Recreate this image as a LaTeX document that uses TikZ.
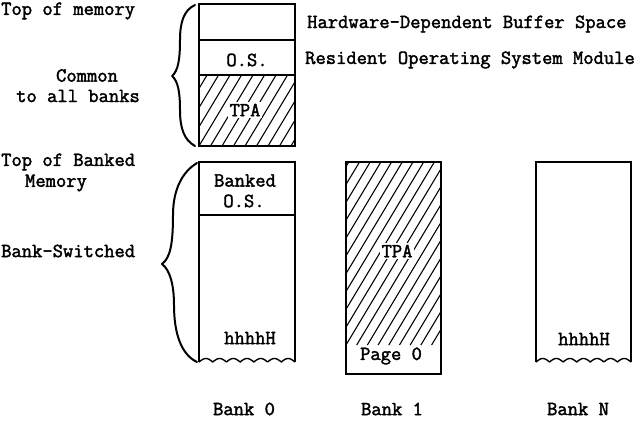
\documentclass[tikz,border=0pt]{standalone}
\usepackage{fontspec}
\setmainfont[FakeBold=2]{Latin Modern Mono}
\begin{document}
\begin{tikzpicture}[x=1pt,y=-1pt,
  every node/.style={font=\fontsize{20}{22}\selectfont, inner sep=0pt},
  lbl/.style={anchor=west},
  memline/.style={line width=1.4pt, line join=miter},
  hatchline/.style={line width=1.1pt},
  bracestyle/.style={line width=2pt, line cap=round, line join=round},
  hole/.style={fill=white, inner sep=2pt}]
\useasboundingbox (0,0) rectangle (642,422);

% ---------- Common area ----------
\begin{scope}
  \clip (199,75) rectangle (295,146);
  \foreach \k in {-8,...,10}
    \draw[hatchline] ({199+\k*11.5},146) -- ++(60,-100);
\end{scope}
\draw[memline] (199,4) rectangle (295,146);
\draw[memline] (199,40) -- (295,40);
\draw[memline] (199,75) -- (295,75);
\node (os1) at (247,60) {O.S.};
\node[hole] (tpa1) at (245,110) {TPA};

\draw[bracestyle] (195,5) .. controls (184,10) and (180,22) .. (180,40)
  .. controls (180,60) and (178,71) .. (172,76)
  .. controls (178,81) and (180,92) .. (180,110)
  .. controls (180,128) and (184,140) .. (195,146);

\node[lbl] (topmem) at (1,11) {Top of memory};
\node (common) at (87,75.5) {Common};
\node (toall) at (78,96) {to all banks};
\node[lbl] (hw) at (307,24) {Hardware-Dependent Buffer Space};
\node[lbl] (res) at (305,60) {Resident Operating System Module};

% ---------- Bank 0 ----------
\draw[memline] (199,362) -- (199,162) -- (295,162) -- (295,362);
\draw[memline] plot[domain=0:7, samples=150] ({199+\x*13.714},{362-3.5*abs(sin(\x*180))});
\draw[memline] (199,215) -- (295,215);
\node (banked) at (245,180.5) {Banked};
\node (os2) at (244,201) {O.S.};
\node (h0) at (250,338) {hhhhH};

\draw[bracestyle] (197,163) .. controls (182,172) and (173,190) .. (173,215)
  .. controls (173,245) and (170,258) .. (162,264)
  .. controls (170,270) and (174,285) .. (174,305)
  .. controls (174,335) and (182,355) .. (197,362);

\node[lbl] (topb) at (1,162) {Top of Banked};
\node (memory) at (56,183) {Memory};
\node[lbl] (bsw) at (1,251) {Bank-Switched};

% ---------- Bank 1 ----------
\begin{scope}
  \clip (346,162) rectangle (441,345);
  \foreach \k in {-12,...,10}
    \draw[hatchline] ({346+\k*10.7},345) -- ++(120,-200);
\end{scope}
\draw[memline] (346,162) rectangle (441,374);
\node[hole] (tpa2) at (397,251) {TPA};
\node (page0) at (391,356) {Page 0};

% ---------- Bank N ----------
\draw[memline] (536,362) -- (536,162) -- (631,162) -- (631,362);
\draw[memline] plot[domain=0:7, samples=150] ({536+\x*13.571},{362-3.5*abs(sin(\x*180))});
\node (hn) at (584,339) {hhhhH};

% ---------- Bank labels ----------
\node (b0) at (244,409) {Bank 0};
\node (b1) at (392,409) {Bank 1};
\node (bn) at (578,409) {Bank N};
\end{tikzpicture}
\end{document}
